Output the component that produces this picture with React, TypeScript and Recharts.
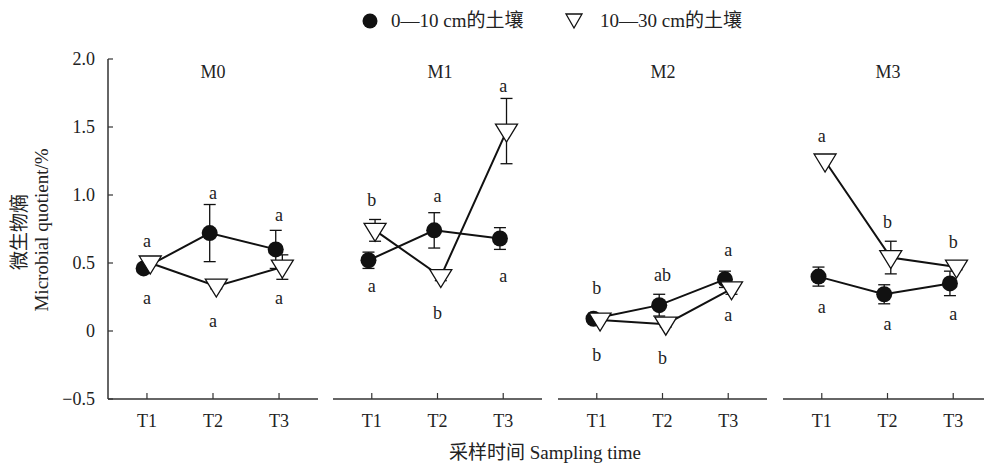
import React from "react";
import { ComposedChart, Line, Scatter, XAxis, YAxis, ErrorBar } from "recharts";

const FONT = "'Liberation Serif', 'Times New Roman', 'Noto Sans CJK SC', serif";
const INK = "#111";
const AXIS = "#333";

const periods = ["T1", "T2", "T3"];
const panels = ["M0", "M1", "M2", "M3"];
const yTicks = [-0.5, 0, 0.5, 1, 1.5, 2];

// 0—10 cm 土层（实心圆）
const shallow = [
  [0.46, 0.72, 0.6],
  [0.52, 0.74, 0.68],
  [0.09, 0.19, 0.38],
  [0.4, 0.27, 0.35],
];
const shallowErr = [
  [0.03, 0.21, 0.14],
  [0.06, 0.13, 0.08],
  [0.02, 0.08, 0.06],
  [0.07, 0.07, 0.09],
];

// 10—30 cm 土层（空心倒三角）
const deep = [
  [0.5, 0.33, 0.47],
  [0.74, 0.4, 1.47],
  [0.08, 0.05, 0.31],
  [1.25, 0.54, 0.47],
];
const deepErr = [
  [0.02, 0.02, 0.09],
  [0.08, 0.03, 0.24],
  [0.01, 0.02, 0.04],
  [0.01, 0.12, 0.02],
];

// 显著性字母：上方 / 下方，及其所在的 y 值
const upperText = [
  ["a", "a", "a"],
  ["b", "a", "a"],
  ["b", "ab", "a"],
  ["a", "b", "b"],
];
const upperY = [
  [0.66, 1.01, 0.85],
  [0.96, 0.99, 1.8],
  [0.31, 0.41, 0.59],
  [1.43, 0.8, 0.65],
];
const lowerText = [
  ["a", "a", "a"],
  ["a", "b", "a"],
  ["b", "b", "a"],
  ["a", "a", "a"],
];
const lowerY = [
  [0.24, 0.07, 0.24],
  [0.33, 0.13, 0.4],
  [-0.18, -0.2, 0.11],
  [0.17, 0.05, 0.12],
];

// 两个土层的点在同一时间上左右错开一点
const DODGE = 0.05;
const panelLeft = [0, 333, 558, 783];

const tickStyle = { fill: "#222", fontSize: 18, fontFamily: FONT } as const;

function Triangle(props: any) {
  const { cx, cy, index } = props;
  if (cx == null || cy == null) return <g key={index} />;
  const d = `M${cx - 11},${cy - 7} L${cx + 11},${cy - 7} L${cx},${cy + 11} Z`;
  return <path key={index} d={d} fill="#fff" stroke={INK} strokeWidth={1.3} />;
}

function Circle(props: any) {
  const { cx, cy, index } = props;
  if (cx == null || cy == null) return <g key={index} />;
  return <circle key={index} cx={cx} cy={cy} r={8} fill={INK} />;
}

function Letter(props: any) {
  const { cx, cy, payload } = props;
  return (
    <text x={cx} y={cy} dy="0.3em" textAnchor="middle" fontSize={18} fontFamily={FONT} fill="#222">
      {payload.t}
    </text>
  );
}

function Panel({ p }: { p: number }) {
  const sRows = periods.map((_, i) => ({ x: i + 1 - DODGE, s: shallow[p][i], se: shallowErr[p][i] }));
  const dRows = periods.map((_, i) => ({ x: i + 1 + DODGE, d: deep[p][i], de: deepErr[p][i] }));
  const letters = periods.flatMap((_, i) => [
    { x: i + 1, y: upperY[p][i], t: upperText[p][i] },
    { x: i + 1, y: lowerY[p][i], t: lowerText[p][i] },
  ]);
  const first = p === 0;
  return (
    <div style={{ position: "absolute", left: panelLeft[p], top: 0 }}>
      <ComposedChart
        width={first ? 320 : 211}
        height={464}
        margin={{ top: 59, right: 2, bottom: 25, left: 0 }}
      >
        <XAxis
          dataKey="x"
          type="number"
          domain={[0.41, 3.59]}
          ticks={[1, 2, 3]}
          allowDataOverflow
          tickFormatter={(v) => periods[v - 1]}
          height={40}
          tick={tickStyle}
          tickSize={-6}
          tickMargin={21}
          axisLine={{ stroke: AXIS, strokeWidth: 1.5 }}
          tickLine={{ stroke: AXIS, strokeWidth: 1.2 }}
        />
        <YAxis
          type="number"
          domain={[-0.5, 2]}
          ticks={yTicks}
          allowDataOverflow
          width={first ? 108 : 0}
          tick={first ? tickStyle : false}
          tickFormatter={(v) => (v === 0 ? "0" : v < 0 ? "\u2212" + Math.abs(v).toFixed(1) : v.toFixed(1))}
          tickSize={first ? -5 : 0}
          tickMargin={18}
          axisLine={{ stroke: AXIS, strokeWidth: 1.5 }}
          tickLine={first ? { stroke: AXIS, strokeWidth: 1.2 } : false}
        />
        <Line
          data={sRows}
          dataKey="s"
          stroke={INK}
          strokeWidth={2}
          dot={Circle}
          activeDot={false}
          isAnimationActive={false}
        >
          <ErrorBar dataKey="se" direction="y" width={6} stroke={INK} strokeWidth={1.3} />
        </Line>
        <Line
          data={dRows}
          dataKey="d"
          stroke={INK}
          strokeWidth={2}
          dot={Triangle}
          activeDot={false}
          isAnimationActive={false}
        >
          <ErrorBar dataKey="de" direction="y" width={6} stroke={INK} strokeWidth={1.3} />
        </Line>
        <Scatter data={letters} dataKey="y" shape={Letter} isAnimationActive={false} />
      </ComposedChart>
    </div>
  );
}

const titleX = [213, 440, 663, 888];

export default function App() {
  const text: React.CSSProperties = {
    position: "absolute",
    fontSize: 18,
    fontFamily: FONT,
    color: "#222",
    whiteSpace: "nowrap",
    lineHeight: 1,
  };
  const big: React.CSSProperties = { ...text, fontSize: 19 };
  return (
    <div
      style={{
        position: "absolute",
        left: 0,
        top: 0,
        width: 984,
        height: 464,
        overflow: "hidden",
        background: "#fff",
        fontFamily: FONT,
      }}
    >
      {panels.map((_, p) => (
        <Panel key={p} p={p} />
      ))}
      {panels.map((m, p) => (
        <div key={m} style={{ ...text, left: titleX[p], top: 72, transform: "translate(-50%, -50%)" }}>
          {m}
        </div>
      ))}

      {/* 图例 */}
      <svg style={{ position: "absolute", left: 360, top: 10 }} width={30} height={22}>
        <circle cx={10} cy={11} r={7.5} fill={INK} />
      </svg>
      <div style={{ ...big, left: 391, top: 20, transform: "translateY(-50%)" }}>0—10 cm的土壤</div>
      <svg style={{ position: "absolute", left: 563, top: 10 }} width={30} height={22}>
        <path d="M3,4 L19,4 L11,18 Z" fill="#fff" stroke={INK} strokeWidth={1.3} />
      </svg>
      <div style={{ ...big, left: 600, top: 20, transform: "translateY(-50%)" }}>10—30 cm的土壤</div>

      {/* 坐标轴标题 */}
      <div style={{ ...big, left: 19, top: 232, transform: "translate(-50%, -50%) rotate(-90deg)" }}>微生物熵</div>
      <div style={{ ...big, left: 41, top: 230, transform: "translate(-50%, -50%) rotate(-90deg)" }}>
        Microbial quotient/%
      </div>
      <div style={{ ...big, left: 545, top: 452, transform: "translate(-50%, -50%)" }}>采样时间 Sampling time</div>
    </div>
  );
}
